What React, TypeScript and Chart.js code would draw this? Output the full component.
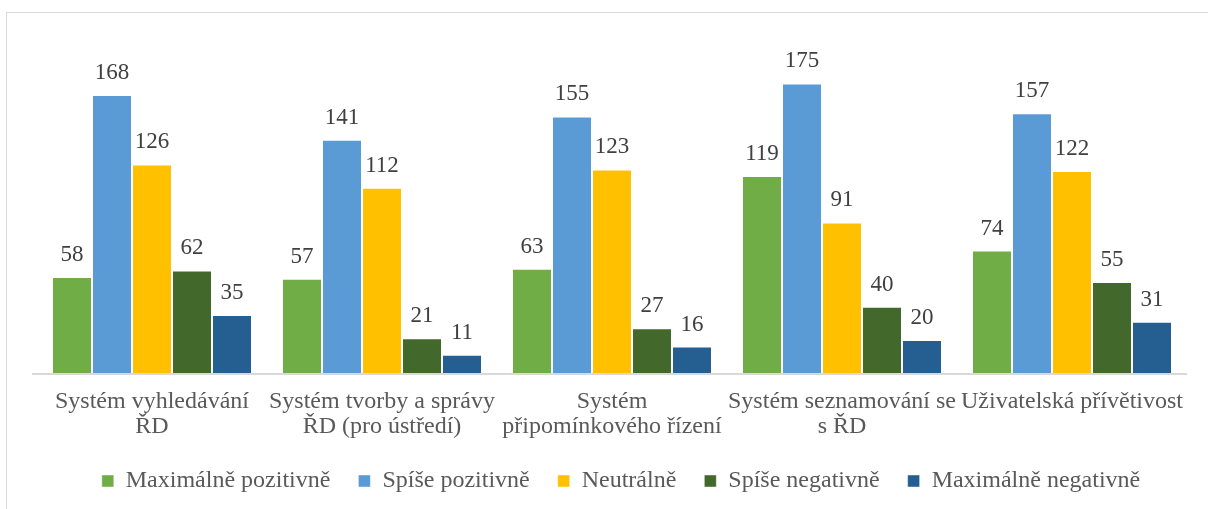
import React, { useEffect, useRef } from "react";
import { Chart, registerables } from "chart.js";

Chart.register(...registerables);

const categories: string[][] = [
  ["Systém vyhledávání", "ŘD"],
  ["Systém tvorby a správy", "ŘD (pro ústředí)"],
  ["Systém", "připomínkového řízení"],
  ["Systém seznamování se", "s ŘD"],
  ["Uživatelská přívětivost"],
];

const seriesNames = [
  "Maximálně pozitivně",
  "Spíše pozitivně",
  "Neutrálně",
  "Spíše negativně",
  "Maximálně negativně",
];

const maxPositive = [58, 57, 63, 119, 74];
const ratherPositive = [168, 141, 155, 175, 157];
const neutral = [126, 112, 123, 91, 122];
const ratherNegative = [62, 21, 27, 40, 55];
const maxNegative = [35, 11, 16, 20, 31];

const seriesColors = ["#70AD47", "#5B9BD5", "#FFC000", "#43682B", "#255E91"];

const FONT = "'Liberation Serif', 'Times New Roman', serif";

const dataLabelPlugin = {
  id: "dataLabels",
  afterLayout(chart: any) {
    const lg = chart.legend;
    if (!lg) return;
    const dy = chart.chartArea.bottom + 68 - lg.top;
    lg.top += dy;
    lg.bottom += dy;
    lg.left += 9;
    lg.right += 9;
  },
  beforeDatasetsDraw(chart: any) {
    const ctx = chart.ctx;
    const a = chart.chartArea;
    ctx.save();
    ctx.strokeStyle = "#D9D9D9";
    ctx.lineWidth = 2;
    ctx.beginPath();
    ctx.moveTo(a.left - 5, a.bottom + 1);
    ctx.lineTo(a.right, a.bottom + 1);
    ctx.stroke();
    ctx.restore();
  },
  afterDatasetsDraw(chart: any) {
    const ctx = chart.ctx;
    ctx.save();
    ctx.font = `23px ${FONT}`;
    ctx.fillStyle = "#404040";
    ctx.textAlign = "center";
    ctx.textBaseline = "alphabetic";
    chart.data.datasets.forEach((ds: any, i: number) => {
      const meta = chart.getDatasetMeta(i);
      meta.data.forEach((bar: any, j: number) => {
        ctx.fillText(String(ds.data[j]), bar.x, bar.y - 16);
      });
    });
    ctx.restore();
  },
};

export default function App() {
  const ref = useRef<HTMLCanvasElement>(null);

  useEffect(() => {
    if (!ref.current) return;
    const values = [maxPositive, ratherPositive, neutral, ratherNegative, maxNegative];
    const chart = new Chart(ref.current, {
      type: "bar",
      data: {
        labels: categories,
        datasets: values.map((v, i) => ({
          label: seriesNames[i],
          data: v,
          backgroundColor: seriesColors[i],
          borderColor: "rgba(255,255,255,0.45)",
          borderWidth: 1,
          categoryPercentage: 0.8696,
          barPercentage: 1.0,
        })),
      },
      options: {
        responsive: false,
        animation: false,
        devicePixelRatio: 1,
        layout: { padding: { left: 37, right: 21, top: 42, bottom: 0 } },
        plugins: {
          tooltip: { enabled: false },
          legend: {
            position: "bottom",
            labels: {
              boxWidth: 12,
              boxHeight: 12,
              padding: 28,
              color: "#595959",
              font: { family: FONT, size: 24 },
            },
          },
        },
        scales: {
          x: {
            grid: { display: false, drawTicks: false },
            border: { display: false },
            ticks: {
              color: "#595959",
              padding: 16,
              maxRotation: 0,
              autoSkip: false,
              font: { family: FONT, size: 24, lineHeight: 1.06 },
            },
            afterFit: (scale: any) => {
              scale.height = 74;
            },
          },
          y: {
            display: false,
            min: 0,
            max: 200,
          },
        },
      },
      plugins: [dataLabelPlugin],
    });
    return () => chart.destroy();
  }, []);

  return (
    <div
      style={{
        position: "fixed",
        left: 0,
        top: 0,
        width: 1208,
        height: 509,
        overflow: "hidden",
        background: "#fff",
      }}
    >
      <div
        style={{
          position: "absolute",
          left: 6,
          top: 12,
          width: 1400,
          height: 700,
          border: "1px solid #D9D9D9",
        }}
      />
      <canvas
        ref={ref}
        width={1208}
        height={509}
        style={{ position: "absolute", left: 0, top: 0, width: 1208, height: 509 }}
      />
    </div>
  );
}
